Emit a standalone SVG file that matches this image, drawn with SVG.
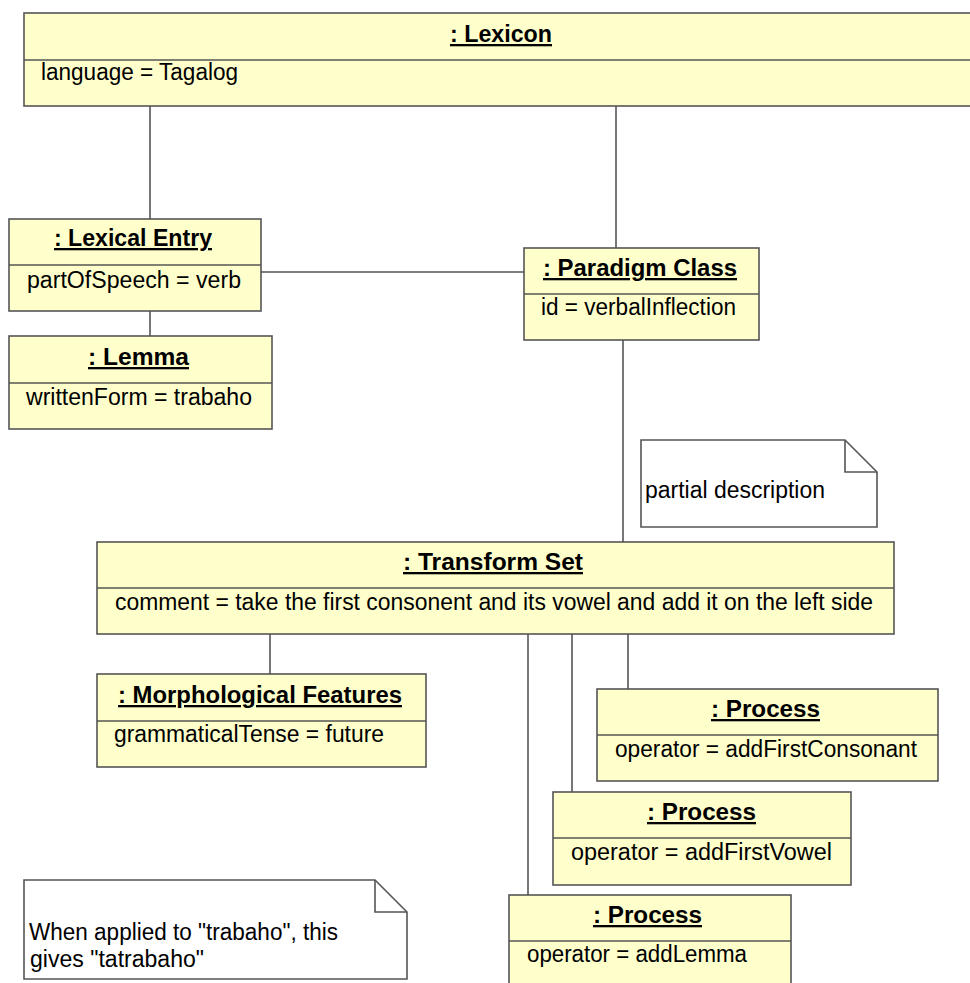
<svg xmlns="http://www.w3.org/2000/svg" width="970" height="983" viewBox="0 0 970 983">
  <style>
    .box { fill: #ffffcc; stroke: #555555; stroke-width: 1.6; }
    .div { stroke: #555555; stroke-width: 1.6; }
    .note { fill: #ffffff; stroke: #555555; stroke-width: 1.6; }
    .link { stroke: #555555; stroke-width: 1.6; fill: none; }
    text { font-family: "Liberation Sans", Arial, sans-serif; font-size: 23px; fill: #000000; }
    .title { font-weight: bold; text-decoration: underline; }
  </style>
  <rect width="970" height="983" fill="#ffffff"/>

  <g id="connectors">
    <line class="link" x1="150" y1="106" x2="150" y2="219"/>
    <line class="link" x1="616" y1="106" x2="616" y2="248"/>
    <line class="link" x1="261" y1="272" x2="524" y2="272"/>
    <line class="link" x1="150" y1="311" x2="150" y2="336"/>
    <line class="link" x1="623" y1="340" x2="623" y2="542"/>
    <line class="link" x1="270" y1="634" x2="270" y2="674"/>
    <line class="link" x1="628" y1="634" x2="628" y2="689"/>
    <line class="link" x1="572" y1="634" x2="572" y2="792"/>
    <line class="link" x1="528" y1="634" x2="528" y2="895"/>
  </g>

  <g id="lexicon">
    <rect class="box" x="24" y="13" width="960" height="93"/>
    <line class="div" x1="24" y1="60" x2="984" y2="60"/>
    <text class="title" x="450" y="42" textLength="102" lengthAdjust="spacingAndGlyphs">: Lexicon</text>
    <text x="41" y="80" textLength="197" lengthAdjust="spacingAndGlyphs">language = Tagalog</text>
  </g>

  <g id="lexical-entry">
    <rect class="box" x="9" y="219" width="252" height="92"/>
    <line class="div" x1="9" y1="265" x2="261" y2="265"/>
    <text class="title" x="54" y="246" textLength="158" lengthAdjust="spacingAndGlyphs">: Lexical Entry</text>
    <text x="27" y="288" textLength="214" lengthAdjust="spacingAndGlyphs">partOfSpeech = verb</text>
  </g>

  <g id="lemma">
    <rect class="box" x="9" y="336" width="263" height="93"/>
    <line class="div" x1="9" y1="383" x2="272" y2="383"/>
    <text class="title" x="88" y="365" textLength="101" lengthAdjust="spacingAndGlyphs">: Lemma</text>
    <text x="26" y="405" textLength="226" lengthAdjust="spacingAndGlyphs">writtenForm = trabaho</text>
  </g>

  <g id="paradigm-class">
    <rect class="box" x="524" y="248" width="235" height="92"/>
    <line class="div" x1="524" y1="294" x2="759" y2="294"/>
    <text class="title" x="543" y="276" textLength="194" lengthAdjust="spacingAndGlyphs">: Paradigm Class</text>
    <text x="541" y="315" textLength="195" lengthAdjust="spacingAndGlyphs">id = verbalInflection</text>
  </g>

  <g id="note-partial">
    <path class="note" d="M641,440 H845 L877,472 V527 H641 Z"/>
    <path class="link" d="M845,440 V472 H877"/>
    <text x="645" y="498" textLength="180" lengthAdjust="spacingAndGlyphs">partial description</text>
  </g>

  <g id="transform-set">
    <rect class="box" x="97" y="542" width="797" height="92"/>
    <line class="div" x1="97" y1="588" x2="894" y2="588"/>
    <text class="title" x="403" y="570" textLength="180" lengthAdjust="spacingAndGlyphs">: Transform Set</text>
    <text x="115" y="610" textLength="758" lengthAdjust="spacingAndGlyphs">comment = take the first consonent and its vowel and add it on the left side</text>
  </g>

  <g id="morphological-features">
    <rect class="box" x="97" y="674" width="329" height="93"/>
    <line class="div" x1="97" y1="721" x2="426" y2="721"/>
    <text class="title" x="118" y="703" textLength="284" lengthAdjust="spacingAndGlyphs">: Morphological Features</text>
    <text x="114" y="742" textLength="270" lengthAdjust="spacingAndGlyphs">grammaticalTense = future</text>
  </g>

  <g id="process-consonant">
    <rect class="box" x="597" y="689" width="341" height="92"/>
    <line class="div" x1="597" y1="735" x2="938" y2="735"/>
    <text class="title" x="711" y="717" textLength="109" lengthAdjust="spacingAndGlyphs">: Process</text>
    <text x="615" y="757" textLength="302" lengthAdjust="spacingAndGlyphs">operator = addFirstConsonant</text>
  </g>

  <g id="process-vowel">
    <rect class="box" x="553" y="792" width="298" height="93"/>
    <line class="div" x1="553" y1="838" x2="851" y2="838"/>
    <text class="title" x="647" y="820" textLength="109" lengthAdjust="spacingAndGlyphs">: Process</text>
    <text x="571" y="860" textLength="261" lengthAdjust="spacingAndGlyphs">operator = addFirstVowel</text>
  </g>

  <g id="process-lemma">
    <rect class="box" x="509" y="895" width="282" height="100"/>
    <line class="div" x1="509" y1="941" x2="791" y2="941"/>
    <text class="title" x="593" y="923" textLength="109" lengthAdjust="spacingAndGlyphs">: Process</text>
    <text x="527" y="962" textLength="220" lengthAdjust="spacingAndGlyphs">operator = addLemma</text>
  </g>

  <g id="note-result">
    <path class="note" d="M24,880 H375 L407,912 V979 H24 Z"/>
    <path class="link" d="M375,880 V912 H407"/>
    <text x="29" y="940" textLength="309" lengthAdjust="spacingAndGlyphs">When applied to "trabaho", this</text>
    <text x="30" y="967" textLength="174" lengthAdjust="spacingAndGlyphs">gives "tatrabaho"</text>
  </g>
</svg>
